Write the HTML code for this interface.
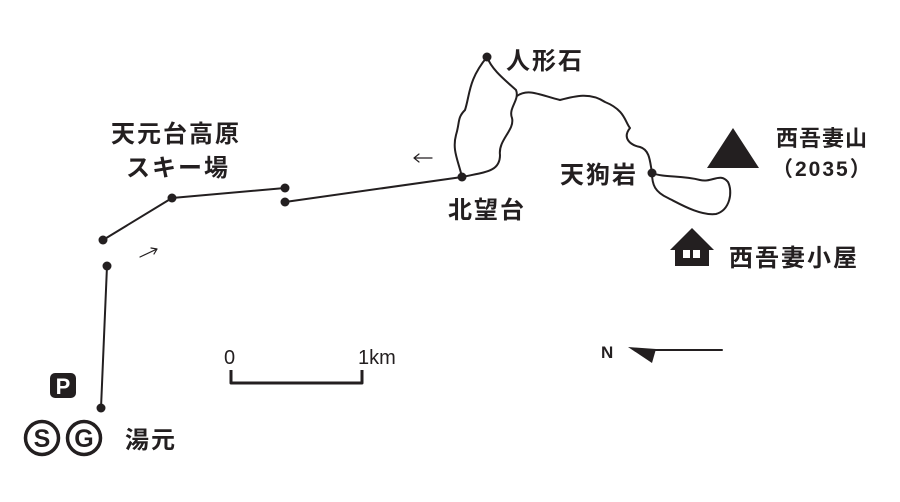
<!DOCTYPE html>
<html><head><meta charset="utf-8"><style>
body{margin:0;background:#fff}
svg{display:block}
text{font-family:"Liberation Sans","Noto Sans CJK JP",sans-serif;font-weight:bold;fill:#231f20}
.j{font-size:24px;letter-spacing:2px}
</style></head><body>
<svg width="900" height="502" viewBox="0 0 900 502" xmlns="http://www.w3.org/2000/svg">
<g stroke="#231f20" stroke-width="2" fill="none" stroke-linecap="round" stroke-linejoin="round">
<polyline points="101,408 107,266"/>
<polyline points="103,240 172,198 285,188"/>
<polyline points="285,202 462,177"/>
<path d="M462,177 C458,160 452,150 456,135 C460,122 457,118 465,110 C470,95 468,80 487,57"/>
<path d="M487,57 C492,70 505,80 516,90 C520,100 508,108 512,118 C515,130 498,140 500,155 C500,172 485,172 462,177"/>
<path d="M517,96 C528,88 540,95 560,100 C575,96 590,92 605,102 C625,110 625,122 630,128 C622,138 630,145 640,147 C650,150 650,162 652,173"/>
<path d="M652,173 C665,178 680,175 700,180 C712,183 720,172 728,182 C733,192 730,210 716,214 C700,216 680,204 668,198 C655,192 652,185 652,173"/>
<path d="M432,158 L414,158 M419,154 L414,158 L419,162" stroke-width="1.2"/>
<path d="M140,257 L157,249 M151,248 L157,249 L154,254" stroke-width="1.2"/>
<polyline points="231,370 231,383 362,383 362,370" stroke-width="3" stroke-linecap="butt"/>
<line x1="650" y1="350" x2="722" y2="350" stroke-width="2"/>
</g>
<g fill="#231f20">
<circle cx="101" cy="408" r="4.5"/><circle cx="107" cy="266" r="4.5"/>
<circle cx="103" cy="240" r="4.5"/><circle cx="172" cy="198" r="4.5"/>
<circle cx="285" cy="188" r="4.5"/><circle cx="285" cy="202" r="4.5"/>
<circle cx="462" cy="177" r="4.5"/><circle cx="487" cy="57" r="4.5"/>
<circle cx="652" cy="173" r="4.5"/>
<polygon points="707,168 733,128 759,168"/>
<polygon points="670,250 692,228 714,250 709,250 709,266 675,266 675,250"/>
<polygon points="628,347 656,349 652,363"/>
<rect x="50" y="373" width="26" height="25" rx="5"/>
</g>
<rect x="683" y="250" width="7" height="8" fill="#fff"/>
<rect x="693" y="250" width="7" height="8" fill="#fff"/>
<text x="63" y="394" font-size="22" text-anchor="middle" style="fill:#fff">P</text>
<g fill="none" stroke="#231f20" stroke-width="3.5">
<circle cx="42" cy="438" r="16.5"/><circle cx="84" cy="438" r="16.5"/>
</g>
<text x="42" y="447" font-size="25" text-anchor="middle">S</text>
<text x="84" y="447" font-size="25" text-anchor="middle">G</text>
<text class="j" x="125" y="448">湯元</text>
<text class="j" x="111" y="142">天元台高原</text>
<text class="j" x="126" y="176">スキー場</text>
<text class="j" x="448" y="218">北望台</text>
<text class="j" x="506" y="69">人形石</text>
<text class="j" x="560" y="183">天狗岩</text>
<text x="776" y="146" font-size="22" letter-spacing="1">西吾妻山</text>
<text x="772" y="176" font-size="21" letter-spacing="2">（2035）</text>
<text class="j" x="729" y="266">西吾妻小屋</text>
<text x="224" y="364" font-size="20" style="font-weight:normal">0</text>
<text x="358" y="364" font-size="20" style="font-weight:normal">1km</text>
<text x="601" y="358" font-size="17">N</text>
</svg>
</body></html>
